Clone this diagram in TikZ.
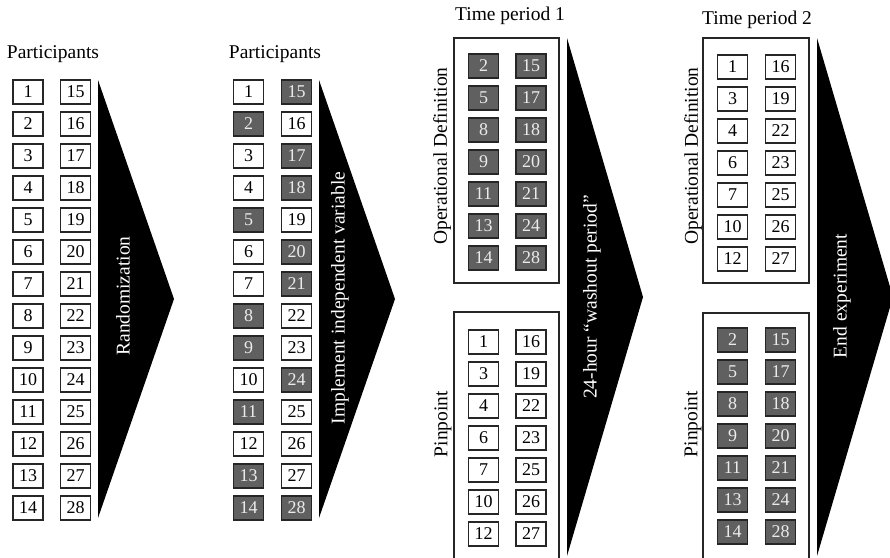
\documentclass[tikz,border=0pt]{standalone}
\usepackage{fontspec}
\setmainfont{Liberation Serif}
\definecolor{shadegray}{RGB}{96,96,96}
\begin{document}
\begin{tikzpicture}[x=1pt,y=-1pt,
  numbox/.style={draw=black!85,line width=1.1pt,minimum width=30pt,minimum height=24pt,inner sep=0pt,font=\fontsize{18}{20}\selectfont},
  numshade/.style={numbox,fill=shadegray,text=black!8},
  grpframe/.style={draw=black!85,line width=1.1pt},
  steplabel/.style={font=\fontsize{19.5}{22}\selectfont},
  arrowtext/.style={steplabel,rotate=90,text=white}]
\useasboundingbox (0,0) rectangle (890,557);
\clip (0,0) rectangle (890,557);

% participants
\node[steplabel] (part1) at (53,54) {Participants};
\foreach \n in {1,...,14} {
  \node[numbox] (a\n) at (28,{92+32*(\n-1)}) {\n};
}
\foreach \n in {15,...,28} {
  \node[numbox] (b\n) at (75.5,{92+32*(\n-15)}) {\n};
}
\fill[black] (98,80) -- (174,299) -- (98,518) -- cycle;
\node[arrowtext] (rand) at (123,296) {Randomization};

% participants after randomization
\node[steplabel] (part2) at (275,54) {Participants};
\foreach \n/\s in {1/numbox,2/numshade,3/numbox,4/numbox,5/numshade,6/numbox,7/numbox,
                   8/numshade,9/numshade,10/numbox,11/numshade,12/numbox,13/numshade,14/numshade} {
  \node[\s] (c\n) at (248.5,{92+32*(\n-1)}) {\n};
}
\foreach \n/\s in {15/numshade,16/numbox,17/numshade,18/numshade,19/numbox,20/numshade,21/numshade,
                   22/numbox,23/numbox,24/numshade,25/numbox,26/numbox,27/numbox,28/numshade} {
  \node[\s] (d\n) at (296.5,{92+32*(\n-15)}) {\n};
}
\fill[black] (319,80) -- (395,299) -- (319,518) -- cycle;
\node[arrowtext] (impl) at (340,298) {Implement independent variable};

% time period 1
\node[steplabel] (tp1) at (510,16) {Time period 1};
\draw[grpframe] (454,38) rectangle (559,283);
\draw[grpframe] (454,312) rectangle (559,580);
\node[steplabel,rotate=90] (od1) at (442,156) {Operational Definition};
\node[steplabel,rotate=90] (pp1) at (443,424) {Pinpoint};
\foreach \a/\b [count=\r from 0] in {2/15,5/17,8/18,9/20,11/21,13/24,14/28} {
  \node[numshade] (e\a) at (483.5,{66+32*\r}) {\a};
  \node[numshade] (e\b) at (531,{66+32*\r}) {\b};
}
\foreach \a/\b [count=\r from 0] in {1/16,3/19,4/22,6/23,7/25,10/26,12/27} {
  \node[numbox] (f\a) at (483.5,{342+32*\r}) {\a};
  \node[numbox] (f\b) at (531,{342+32*\r}) {\b};
}
\fill[black] (567,38) -- (643,297) -- (567,556) -- cycle;
\node[arrowtext] (wash) at (592,297) {24-hour ``washout period''};

% time period 2
\node[steplabel] (tp2) at (757,20) {Time period 2};
\draw[grpframe] (703,38) rectangle (809,283);
\draw[grpframe] (703,313) rectangle (809,580);
\node[steplabel,rotate=90] (od2) at (693,156) {Operational Definition};
\node[steplabel,rotate=90] (pp2) at (693,424) {Pinpoint};
\foreach \a/\b [count=\r from 0] in {1/16,3/19,4/22,6/23,7/25,10/26,12/27} {
  \node[numbox] (g\a) at (732.5,{67+32*\r}) {\a};
  \node[numbox] (g\b) at (780.5,{67+32*\r}) {\b};
}
\foreach \a/\b [count=\r from 0] in {2/15,5/17,8/18,9/20,11/21,13/24,14/28} {
  \node[numshade] (h\a) at (732.5,{340+32*\r}) {\a};
  \node[numshade] (h\b) at (780.5,{340+32*\r}) {\b};
}
\fill[black] (817,38) -- (893,297) -- (817,556) -- cycle;
\node[arrowtext] (endx) at (842,296) {End experiment};

\end{tikzpicture}
\end{document}
